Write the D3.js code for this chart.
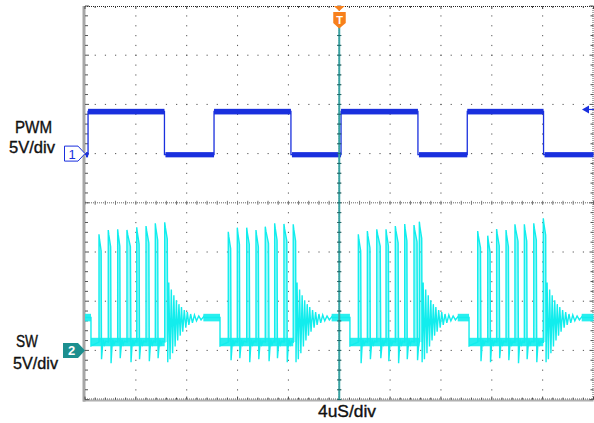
<!DOCTYPE html>
<html><head><meta charset="utf-8">
<script src="https://cdn.jsdelivr.net/npm/d3@7"></script>
<style>body{margin:0;background:#fff}svg{display:block}</style>
</head><body>
<svg id="c" width="594" height="423"></svg>
<script>
// ---------------- data ----------------
const timeDomain = [-20, 20];            // µs, 4 µs/div, 10 div
const divDomain = [4, -4];               // 8 vertical divisions
const voltsPerDiv = 5;
const ch1Position = 1;                   // div
const ch2Position = -3;                  // div

// PWM (channel 1): alternating rise / fall edge times (µs)
const pwmEdges = [-19.76, -13.75, -9.85, -3.80, 0.14, 6.19, 10.07, 16.07];
const pwmHigh = 4.28;                    // V
const pwmLow = -0.1;                     // V
const pwmHighBand = [3.98, 4.55];
const pwmLowBand = [-0.38, 0.15];

// SW (channel 2)
const swIdle = 3.34;                     // V
const swLow = 0.85;                      // V
const swIdleBand = [2.95, 3.72];
const swLowBand = [0.42, 1.28];
const swBurstStart = [-19.53, -9.38, 0.84, 10.21];
const swPulseTimes = [
  [-18.90, -18.17, -17.43, -16.70, -15.93, -15.20, -14.47, -13.73],
  [-8.73, -8.02, -7.28, -6.55, -5.82, -5.08, -4.35, -3.62],
  [1.50, 2.21, 2.95, 3.68, 4.41, 5.15, 5.88, 6.30],
  [10.89, 11.68, 12.38, 13.12, 13.82, 14.56, 15.30, 16.05]
];
const swPulsePeaks = [
  [11.80, 12.24, 12.31, 12.24, 12.51, 12.64, 12.92, 13.02],
  [12.06, 12.47, 12.47, 12.24, 12.57, 12.92, 12.85, 12.82],
  [11.80, 12.13, 12.31, 12.31, 12.64, 12.85, 12.74, 13.08],
  [12.13, 11.66, 12.34, 12.24, 12.82, 12.82, 12.92, 13.42]
];
const swPulseWidths = [                  // µs, rising edge to falling edge
  [0.20, 0.22, 0.20, 0.32, 0.22, 0.26, 0.22, 0.24],
  [0.22, 0.20, 0.24, 0.22, 0.30, 0.22, 0.26, 0.22],
  [0.22, 0.24, 0.32, 0.22, 0.26, 0.20, 0.28, 0.22],
  [0.26, 0.22, 0.24, 0.22, 0.28, 0.22, 0.24, 0.22]
];
const swPulseUndershoot = [
  [-0.9, -1.3, -0.8, -1.2, -0.9, -1.1, -0.8, -1.0],
  [-1.0, -0.8, -1.2, -0.9, -1.1, -0.8, -1.2, -0.9],
  [-1.3, -0.9, -0.8, -1.1, -1.3, -0.9, -1.0, -0.9],
  [-1.1, -1.2, -0.8, -1.0, -1.3, -0.9, -1.2, -1.0]
];
// pulse top shape: [fraction of width, volts below peak]
const pulseTop = [[0, 0], [0.2, -0.5], [0.85, -1.7]];
// recovery after undershoot: [dt µs after fall, volts]
const pulseRecover = [[0.07, 0.3], [0.14, 1.1], [0.23, 0.6], [0.33, 0.95]];
// ringing after the last pulse of a burst: [dt µs, volts]
const ringing = [
  [0.00, -1.2], [0.08, 6.9], [0.18, -0.9], [0.28, 6.2], [0.38, -0.3],
  [0.48, 5.6], [0.58, 0.4], [0.68, 5.1], [0.78, 1.0], [0.88, 4.7],
  [0.98, 1.5], [1.08, 4.4], [1.18, 1.9], [1.30, 4.1], [1.42, 2.3],
  [1.54, 3.9], [1.66, 2.6], [1.80, 3.7], [1.94, 2.8], [2.10, 3.6],
  [2.26, 3.0], [2.44, 3.5], [2.62, 3.1], [2.80, 3.4]
];

const labels = {ch1: ["PWM", "5V/div"], ch2: ["SW", "5V/div"], time: "4uS/div"};

// ---------------- scales ----------------
const svg = d3.select("#c");
const x = d3.scaleLinear().domain(timeDomain).range([85, 593.5]);
const yDiv = d3.scaleLinear().domain(divDomain).range([6, 399.6]);
const y1 = v => yDiv(v / voltsPerDiv + ch1Position);
const y2 = v => yDiv(v / voltsPerDiv + ch2Position);

const X0 = x(timeDomain[0]), X1 = x(timeDomain[1]);
const Y0 = yDiv(divDomain[0]), Y1 = yDiv(divDomain[1]);

const majorT = d3.range(timeDomain[0], timeDomain[1] + 0.001, 4);
const minorT = d3.range(timeDomain[0], timeDomain[1] + 0.001, 0.8);
const majorD = d3.range(-4, 4.001, 1);
const minorD = d3.range(-4, 4.001, 0.2);

// ---------------- grid ----------------
const g = svg.append("g");
const dotCol = "#555";
majorT.slice(1, -1).filter(t => t !== 0).forEach(t => {
  minorD.slice(1, -1).forEach(d => {
    g.append("rect").attr("x", x(t) - 0.5).attr("y", yDiv(d) - 0.5).attr("width", 1).attr("height", 1.2).attr("fill", dotCol);
  });
});
majorD.slice(1, -1).filter(d => d !== 0).forEach(d => {
  minorT.slice(1, -1).forEach(t => {
    g.append("rect").attr("x", x(t) - 0.5).attr("y", yDiv(d) - 0.5).attr("width", 1.2).attr("height", 1).attr("fill", dotCol);
  });
});
// center lines
g.append("line").attr("x1", X0).attr("x2", X1).attr("y1", yDiv(0)).attr("y2", yDiv(0))
  .attr("stroke", "#666").attr("stroke-dasharray", "1 1");
g.append("line").attr("x1", x(0)).attr("x2", x(0)).attr("y1", Y0).attr("y2", Y1)
  .attr("stroke", "#666").attr("stroke-dasharray", "1 1");
minorT.forEach(t => g.append("line").attr("x1", x(t)).attr("x2", x(t)).attr("y1", yDiv(0) - 2).attr("y2", yDiv(0) + 2).attr("stroke", "#777"));
minorD.forEach(d => g.append("line").attr("x1", x(0) - 2).attr("x2", x(0) + 2).attr("y1", yDiv(d)).attr("y2", yDiv(d)).attr("stroke", "#777"));
// border
g.append("line").attr("x1", X0).attr("x2", X1).attr("y1", Y0 + 0.5).attr("y2", Y0 + 0.5)
  .attr("stroke", "#222").attr("stroke-dasharray", "1 1");
g.append("line").attr("x1", X0).attr("x2", X1).attr("y1", Y1 - 0.5).attr("y2", Y1 - 0.5)
  .attr("stroke", "#333").attr("stroke-dasharray", "1 1");
g.append("line").attr("x1", X0 - 2).attr("x2", X1).attr("y1", Y1 + 1).attr("y2", Y1 + 1)
  .attr("stroke", "#b0b0b0").attr("stroke-width", 2);
g.append("rect").attr("x", X0 - 2.5).attr("y", Y0).attr("width", 3).attr("height", Y1 - Y0 + 2).attr("fill", "#a6a6a6");
g.append("line").attr("x1", X1 - 0.5).attr("x2", X1 - 0.5).attr("y1", Y0).attr("y2", Y1)
  .attr("stroke", "#555").attr("stroke-dasharray", "1 1");
minorT.forEach((t, i) => {
  const L = i % 5 === 0 ? 3 : 2;
  g.append("line").attr("x1", x(t)).attr("x2", x(t)).attr("y1", Y0).attr("y2", Y0 + L).attr("stroke", "#444");
  g.append("line").attr("x1", x(t)).attr("x2", x(t)).attr("y1", Y1).attr("y2", Y1 - L).attr("stroke", "#444");
});
minorD.forEach((d, i) => {
  const L = i % 5 === 0 ? 4 : 3;
  g.append("line").attr("x1", X0).attr("x2", X0 + L).attr("y1", yDiv(d)).attr("y2", yDiv(d)).attr("stroke", "#555");
  g.append("line").attr("x1", X1).attr("x2", X1 - L).attr("y1", yDiv(d)).attr("y2", yDiv(d)).attr("stroke", "#555");
});

// ---------------- SW trace ----------------
const swColor = "#12eded";
const swPts = [[timeDomain[0], swIdle]];
const idleSegs = [];
const lowSegs = [];
const pulseBodies = [];
let prevEnd = timeDomain[0];
swBurstStart.forEach((bs, b) => {
  idleSegs.push([prevEnd, bs]);
  swPts.push([bs, swIdle], [bs, swLow - 0.4]);
  const times = swPulseTimes[b];
  times.forEach((tp, i) => {
    const pk = swPulsePeaks[b][i];
    const w = swPulseWidths[b][i];
    swPts.push([tp, swLow]);
    const body = [[tp, swLow]];
    pulseTop.forEach(([f, dv]) => { swPts.push([tp + f * w, pk + dv]); body.push([tp + f * w, pk + dv]); });
    body.push([tp + w, pk - 1.9], [tp + w, swLow]);
    pulseBodies.push(body);
    if (i < times.length - 1) {
      swPts.push([tp + w, swPulseUndershoot[b][i]]);
      pulseRecover.forEach(([dt, v]) => { if (tp + w + dt < times[i + 1]) swPts.push([tp + w + dt, v]); });
    } else {
      ringing.forEach(([dt, v]) => swPts.push([tp + w + dt, v]));
      prevEnd = tp + w + ringing[ringing.length - 1][0];
      swPts.push([prevEnd, swIdle]);
    }
  });
  lowSegs.push([bs, times[times.length - 1]]);
});
idleSegs.push([prevEnd, timeDomain[1]]);
swPts.push([timeDomain[1], swIdle]);

const gsw = svg.append("g");
idleSegs.forEach(([a, b]) => gsw.append("rect").attr("x", x(a)).attr("width", x(b) - x(a))
  .attr("y", y2(swIdleBand[1])).attr("height", y2(swIdleBand[0]) - y2(swIdleBand[1])).attr("fill", swColor).attr("opacity", 0.9));
lowSegs.forEach(([a, b]) => gsw.append("rect").attr("x", x(a)).attr("width", x(b) - x(a))
  .attr("y", y2(swLowBand[1])).attr("height", y2(swLowBand[0]) - y2(swLowBand[1])).attr("fill", swColor).attr("opacity", 0.9));
pulseBodies.forEach(body => gsw.append("path").datum(body)
  .attr("d", d3.line().x(d => x(d[0])).y(d => y2(d[1])))
  .attr("fill", swColor).attr("opacity", 0.45).attr("stroke", "none"));
gsw.append("path").datum(swPts)
  .attr("d", d3.line().x(d => x(d[0])).y(d => y2(d[1])))
  .attr("fill", "none").attr("stroke", swColor).attr("stroke-width", 1.4).attr("stroke-linejoin", "miter");

// ---------------- PWM trace ----------------
const pwmColor = "#1a30de";
const pwmPts = [[timeDomain[0], pwmLow]];
const highSegs = [], lowPwm = [];
let lvl = pwmLow, from = timeDomain[0];
pwmEdges.forEach((t, i) => {
  const next = i % 2 === 0 ? pwmHigh : pwmLow;
  (lvl === pwmHigh ? highSegs : lowPwm).push([from, t]);
  pwmPts.push([t, lvl], [t, next]);
  lvl = next; from = t;
});
(lvl === pwmHigh ? highSegs : lowPwm).push([from, timeDomain[1]]);
pwmPts.push([timeDomain[1], lvl]);
const gp = svg.append("g");
highSegs.forEach(([a, b]) => gp.append("rect").attr("x", x(a)).attr("width", x(b) - x(a))
  .attr("y", y1(pwmHighBand[1])).attr("height", y1(pwmHighBand[0]) - y1(pwmHighBand[1])).attr("fill", pwmColor));
lowPwm.forEach(([a, b]) => gp.append("rect").attr("x", x(a) + 1).attr("width", x(b) - x(a) - 1)
  .attr("y", y1(pwmLowBand[1])).attr("height", y1(pwmLowBand[0]) - y1(pwmLowBand[1])).attr("fill", pwmColor));
gp.append("path").datum(pwmPts)
  .attr("d", d3.line().x(d => x(d[0])).y(d => y1(d[1])))
  .attr("fill", "none").attr("stroke", pwmColor).attr("stroke-width", 1.3);

// ---------------- cursor / trigger ----------------
const cx = x(0);
svg.append("line").attr("x1", cx).attr("x2", cx).attr("y1", 24).attr("y2", Y1)
  .attr("stroke", "#3aa3a3").attr("stroke-width", 2);
minorD.forEach(d => { if (yDiv(d) > 26) svg.append("line").attr("x1", cx - 2).attr("x2", cx + 2).attr("y1", yDiv(d)).attr("y2", yDiv(d)).attr("stroke", "#1d6a6a"); });
const orange = "#f7801c";
svg.append("path").attr("d", `M${cx - 5.5},${Y0} L${cx + 5.5},${Y0} L${cx},${Y0 + 5} Z`).attr("fill", orange);
svg.append("path").attr("d", `M${cx - 6},12 L${cx + 6.5},12 L${cx + 6.5},23 L${cx},28.5 L${cx - 6},23 Z`).attr("fill", orange);
svg.append("text").attr("x", cx + 0.3).attr("y", 24).attr("text-anchor", "middle")
  .attr("font-family", "Liberation Sans, Arial, sans-serif").attr("font-weight", "bold").attr("font-size", 11).attr("fill", "#fff").text("T");

// trigger level arrow (right)
const ty = y1(pwmHigh) - 2;
svg.append("path").attr("d", `M582,${ty} L589,${ty - 4} L589,${ty + 4} Z`).attr("fill", pwmColor);
svg.append("line").attr("x1", 588).attr("x2", 594).attr("y1", ty).attr("y2", ty).attr("stroke", pwmColor).attr("stroke-width", 1.2);

// channel markers
const m1 = y1(0);
svg.append("path").attr("d", `M64.5,${m1 - 7.5} L78,${m1 - 7.5} L85,${m1} L78,${m1 + 7.5} L64.5,${m1 + 7.5} Z`)
  .attr("fill", "#fff").attr("stroke", pwmColor).attr("stroke-width", 1);
svg.append("text").attr("x", 72).attr("y", m1 + 5).attr("text-anchor", "middle")
  .attr("font-family", "Liberation Sans, Arial, sans-serif").attr("font-size", 13).attr("fill", pwmColor).text("1");
const m2 = y2(0);
svg.append("path").attr("d", `M63,${m2 - 7.5} L78,${m2 - 7.5} L85,${m2} L78,${m2 + 7.5} L63,${m2 + 7.5} Z`)
  .attr("fill", "#1c8f8f");
svg.append("text").attr("x", 71.5).attr("y", m2 + 5).attr("text-anchor", "middle")
  .attr("font-family", "Liberation Sans, Arial, sans-serif").attr("font-weight", "bold").attr("font-size", 13).attr("fill", "#fff").text("2");

// ---------------- labels ----------------
const lf = "Liberation Sans, Arial, sans-serif";
function lab(txt, xl, yb, w) {
  svg.append("text").attr("x", xl).attr("y", yb).attr("font-family", lf).attr("font-size", 16)
    .attr("fill", "#111").attr("stroke", "#111").attr("stroke-width", 0.35)
    .attr("textLength", w).attr("lengthAdjust", "spacingAndGlyphs").text(txt);
}
lab(labels.ch1[0], 15, 133, 37);
lab(labels.ch1[1], 9, 152.5, 46);
lab(labels.ch2[0], 16, 347, 22);
lab(labels.ch2[1], 13, 369, 45);
lab(labels.time, 318, 416.5, 58);
</script>
</body></html>
